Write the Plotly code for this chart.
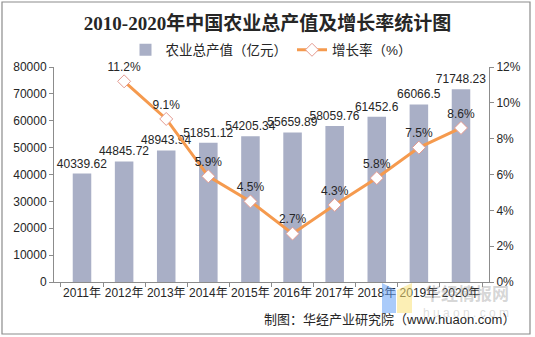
import plotly.graph_objects as go

# Data
years = ["2011年", "2012年", "2013年", "2014年", "2015年",
         "2016年", "2017年", "2018年", "2019年", "2020年"]
output_value = [40339.62, 44845.72, 48943.94, 51851.12, 54205.34,
                55659.89, 58059.76, 61452.6, 66066.5, 71748.23]
growth_rate = [None, 11.2, 9.1, 5.9, 4.5, 2.7, 4.3, 5.8, 7.5, 8.6]

bar_labels = ["40339.62", "44845.72", "48943.94", "51851.12", "54205.34",
              "55659.89", "58059.76", "61452.6", "66066.5", "71748.23"]
rate_labels = ["" if r is None else f"{r}%" for r in growth_rate]

W, H = 535, 337
L, R, T, B = 54, 46, 67, 55

font_main = "Liberation Sans, Arial, Noto Sans CJK SC, sans-serif"
txt = "#262626"

fig = go.Figure()

fig.add_trace(go.Bar(
    x=years, y=output_value, name="农业总产值（亿元）",
    marker=dict(color="#A9AFC6", line=dict(width=0)),
    width=0.44,
    text=bar_labels, textposition="outside", constraintext="none",
    textfont=dict(size=12, color=txt, family=font_main),
    cliponaxis=False,
))

fig.add_trace(go.Scatter(
    x=years, y=growth_rate, name="增长率（%）", yaxis="y2",
    mode="lines+markers+text",
    line=dict(color="#F59A4E", width=3),
    marker=dict(symbol="diamond", size=10, color="white",
                line=dict(color="#E49A90", width=1)),
    text=rate_labels, textposition="top center",
    textfont=dict(size=12, color=txt, family=font_main),
    cliponaxis=False,
))

fig.update_layout(
    width=W, height=H,
    margin=dict(l=L, r=R, t=T, b=B),
    paper_bgcolor="white", plot_bgcolor="white",
    font=dict(family=font_main, size=12, color=txt),
    title=dict(
        text="<b>2010-2020年中国农业总产值及增长率统计图</b>",
        x=0.5, xanchor="center", y=1 - 23 / H, yanchor="middle",
        font=dict(size=19, color="#262626",
                  family="Liberation Serif, Noto Sans CJK SC, serif"),
    ),
    legend=dict(
        orientation="h", x=0.5, xanchor="center", y=1 + (T - 50) / (H - T - B),
        yanchor="middle", font=dict(size=13.5, color=txt),
        bgcolor="rgba(0,0,0,0)", itemwidth=30, tracegroupgap=0,
    ),
    showlegend=True,
    uniformtext=dict(mode=False),
    xaxis=dict(
        type="category", showline=True, linecolor="#8C8C8C", linewidth=1,
        ticks="outside", tickson="boundaries", ticklen=4, tickcolor="#8C8C8C",
        tickangle=0, tickfont=dict(size=12, color=txt), showgrid=False,
    ),
    yaxis=dict(
        range=[0, 80000], dtick=10000, tickformat="d", showgrid=False,
        showline=True, linecolor="#8C8C8C", linewidth=1,
        ticks="outside", ticklen=4, tickcolor="#8C8C8C",
        tickfont=dict(size=12, color=txt), zeroline=False,
    ),
    yaxis2=dict(
        overlaying="y", side="right", range=[0, 12], dtick=2,
        ticksuffix="%", showgrid=False,
        showline=True, linecolor="#8C8C8C", linewidth=1,
        ticks="outside", ticklen=4, tickcolor="#8C8C8C",
        tickfont=dict(size=12, color=txt), zeroline=False,
    ),
)

# Outer frame
fig.add_shape(type="rect", xref="paper", yref="paper",
              x0=-(L - 2) / (W - L - R), x1=1 + (R - 5) / (W - L - R),
              y0=-(B - 3) / (H - T - B), y1=1 + (T - 2) / (H - T - B),
              line=dict(color="#8C8C8C", width=1.2), layer="below")


def px(x):
    return (x - L) / (W - L - R)


def py(y):
    return (H - B - y) / (H - T - B)


# Watermark logo
fig.add_shape(type="path", xref="paper", yref="paper",
              path=f"M {px(382)} {py(283)} L {px(396)} {py(290)} L {px(396)} {py(313)} L {px(382)} {py(313)} Z",
              fillcolor="rgba(100,160,245,0.55)", line=dict(width=0))
fig.add_shape(type="path", xref="paper", yref="paper",
              path=f"M {px(397)} {py(290)} L {px(412)} {py(283)} L {px(412)} {py(313)} L {px(397)} {py(313)} Z",
              fillcolor="rgba(250,225,120,0.55)", line=dict(width=0))
fig.add_annotation(text="<b>华经情报网</b>", xref="paper", yref="paper",
                   x=px(466), y=py(294), xanchor="center", yanchor="middle",
                   showarrow=False,
                   font=dict(size=17, color="rgba(150,150,150,0.4)"))
fig.add_annotation(text="h u a o n . c o m", xref="paper", yref="paper",
                   x=px(466), y=py(313), xanchor="center", yanchor="middle",
                   showarrow=False,
                   font=dict(size=12, color="rgba(170,170,170,0.4)"))

# Source note
fig.add_annotation(text="制图：华经产业研究院（www.huaon.com）",
                   xref="paper", yref="paper",
                   x=px(517), y=py(319), xanchor="right", yanchor="middle",
                   showarrow=False, font=dict(size=13, color=txt))

fig.write_html("out.html")
